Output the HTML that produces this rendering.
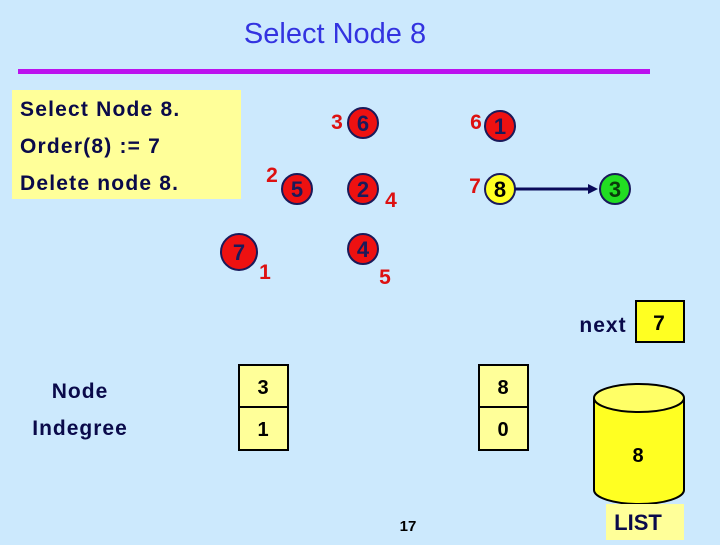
<!DOCTYPE html>
<html><head><style>
body{margin:0;width:720px;height:540px;overflow:hidden;background:#cce9fd;font-family:"Liberation Sans",Arial,sans-serif}
</style></head><body>
<svg width="720" height="540" xmlns="http://www.w3.org/2000/svg" font-family="Liberation Sans, Arial, sans-serif" font-weight="bold">
<rect width="720" height="540" fill="#cce9fd"/>
<text x="335" y="43" font-size="29" fill="#3333e0" text-anchor="middle" font-weight="normal">Select Node 8</text>
<rect x="18" y="69" width="632" height="5" fill="#bb11ee"/>
<rect x="12" y="90" width="229" height="109" fill="#ffff99"/>
<g fill="#0a0a4a" font-size="21" letter-spacing="1.2">
<text x="20" y="116">Select Node 8.</text>
<text x="20" y="153">Order(8) := 7</text>
<text x="20" y="190">Delete node 8.</text>
</g>
<g stroke="#1a1a5a" stroke-width="2">
<circle cx="363" cy="123" r="15" fill="#ee1111"/>
<circle cx="500" cy="126" r="15" fill="#ee1111"/>
<circle cx="297" cy="189" r="15" fill="#ee1111"/>
<circle cx="363" cy="189" r="15" fill="#ee1111"/>
<circle cx="500" cy="189" r="15" fill="#ffff22"/>
<circle cx="615" cy="189" r="15" fill="#22dd22"/>
<circle cx="239" cy="252" r="18" fill="#ee1111"/>
<circle cx="363" cy="249" r="15" fill="#ee1111"/>
</g>
<g font-size="22" text-anchor="middle" fill="#1a1a5a">
<text x="363" y="131">6</text><text x="500" y="134">1</text>
<text x="297" y="197">5</text><text x="363" y="197">2</text>
<text x="500" y="197" fill="#000">8</text><text x="615" y="197" fill="#0a3a0a">3</text>
<text x="239" y="260">7</text><text x="363" y="257">4</text>
</g>
<g font-size="21" text-anchor="middle" fill="#dd1111">
<text x="337" y="129">3</text><text x="476" y="129">6</text>
<text x="272" y="182">2</text><text x="391" y="207">4</text>
<text x="475" y="193">7</text><text x="265" y="279">1</text>
<text x="385" y="284">5</text>
</g>
<line x1="515" y1="189" x2="590" y2="189" stroke="#0a0a5a" stroke-width="3"/>
<polygon points="598,189 588,184 588,194" fill="#0a0a5a"/>
<g font-size="21" fill="#0a0a4a" text-anchor="middle" letter-spacing="1">
<text x="80" y="398">Node</text>
<text x="80" y="435">Indegree</text>
</g>
<g fill="#ffff99" stroke="#000" stroke-width="2">
<rect x="239" y="365" width="49" height="42"/><rect x="239" y="407" width="49" height="43"/>
<rect x="479" y="365" width="49" height="42"/><rect x="479" y="407" width="49" height="43"/>
</g>
<g font-size="20" text-anchor="middle" fill="#000">
<text x="263" y="394">3</text><text x="263" y="436">1</text>
<text x="503" y="394">8</text><text x="503" y="436">0</text>
</g>
<text x="408" y="531" font-size="15" text-anchor="middle" fill="#000">17</text>
<text x="603" y="332" font-size="21" text-anchor="middle" fill="#0a0a4a" letter-spacing="1">next</text>
<rect x="636" y="301" width="48" height="41" fill="#ffff22" stroke="#000" stroke-width="2"/>
<text x="659" y="330" font-size="21" text-anchor="middle" fill="#000">7</text>
<path d="M594,398 L594,490 A45,14 0 0 0 684,490 L684,398" fill="#ffff22" stroke="#000" stroke-width="2"/>
<ellipse cx="639" cy="398" rx="45" ry="14" fill="#ffff66" stroke="#000" stroke-width="2"/>
<text x="638" y="462" font-size="20" text-anchor="middle" fill="#000">8</text>
<rect x="606" y="504" width="78" height="36" fill="#ffff99"/>
<text x="638" y="530" font-size="22" text-anchor="middle" fill="#0a0a4a">LIST</text>
</svg>
</body></html>
